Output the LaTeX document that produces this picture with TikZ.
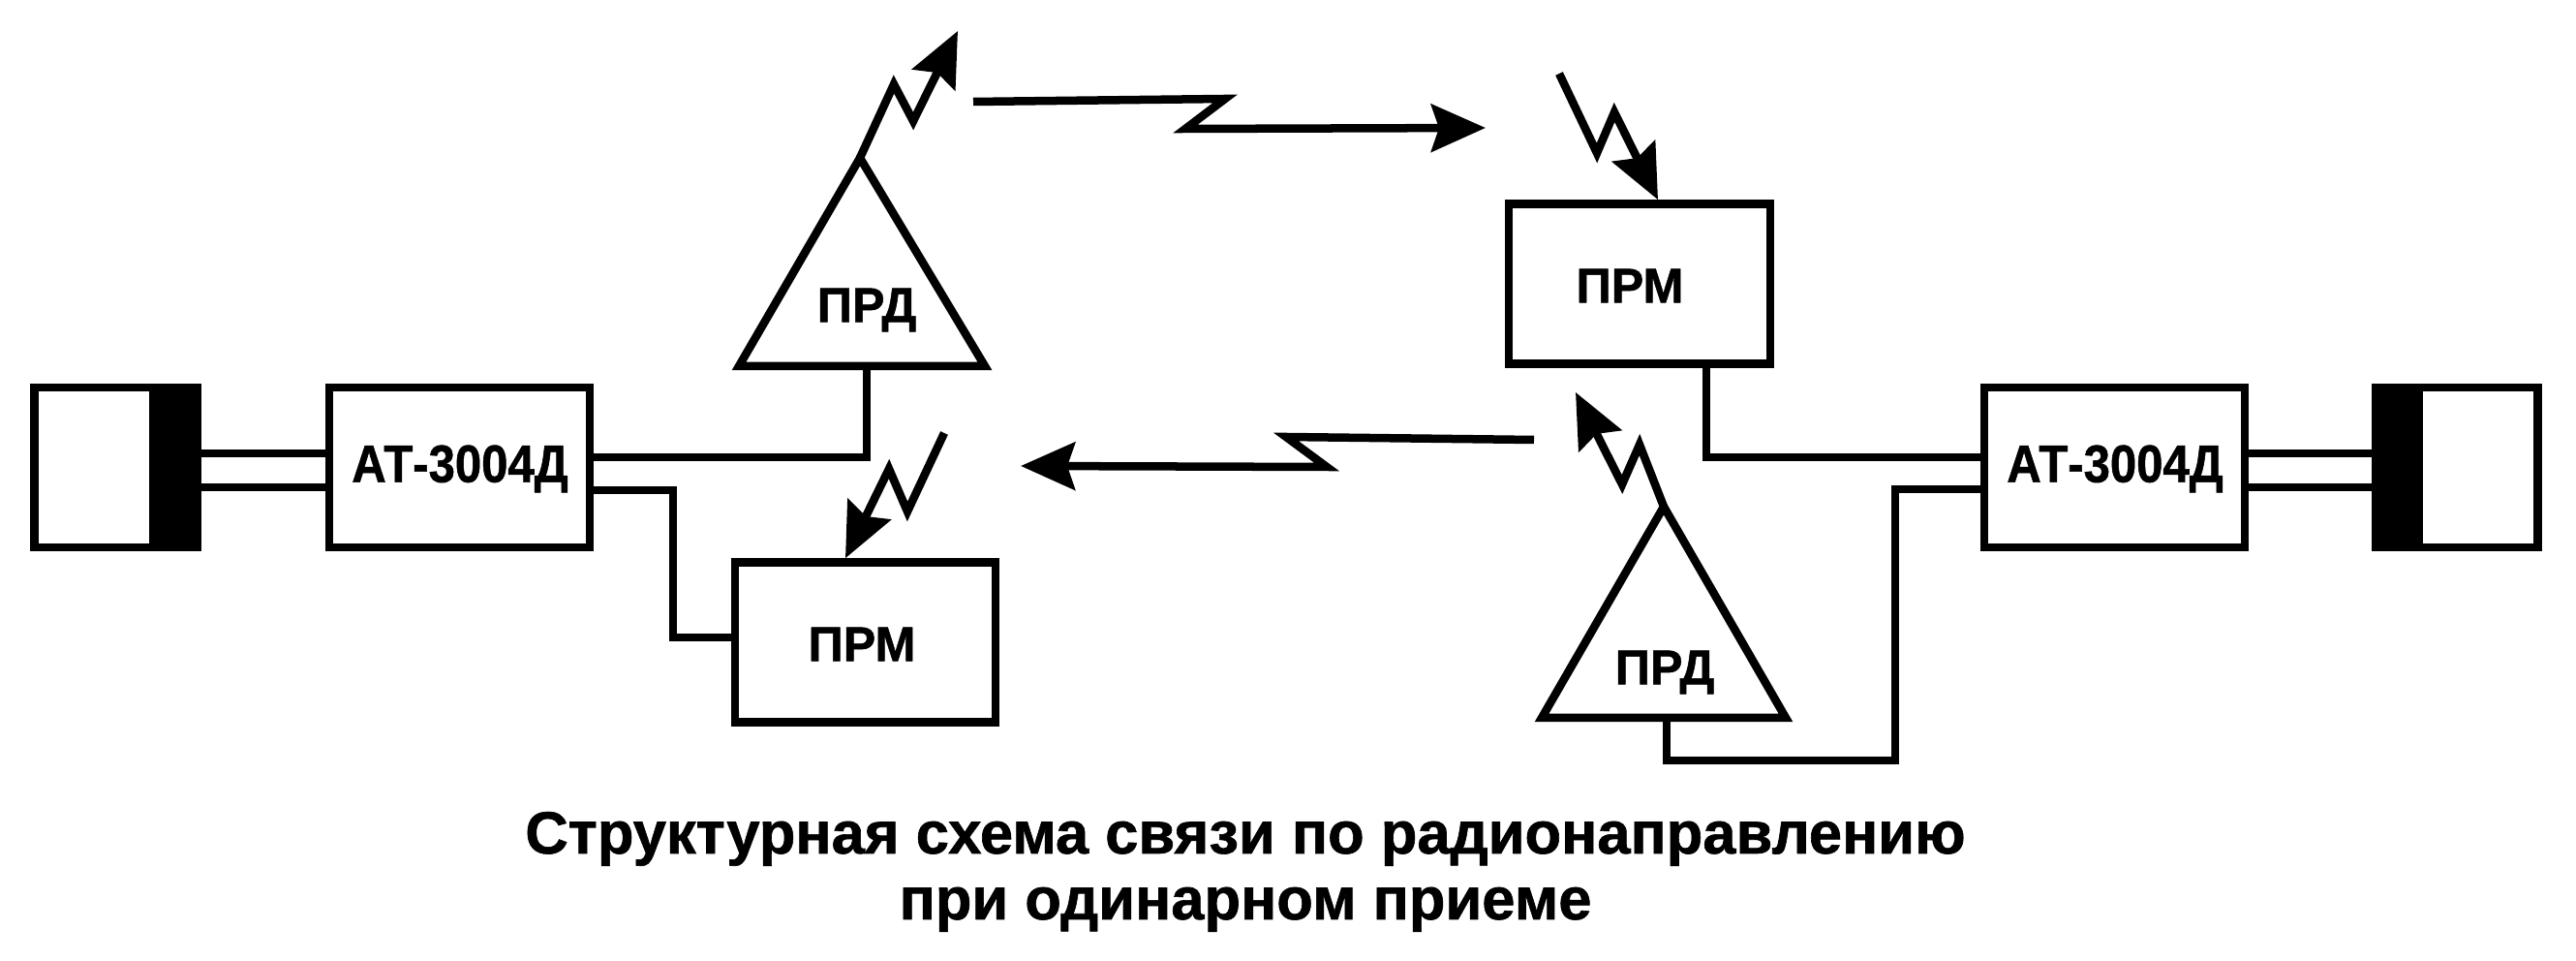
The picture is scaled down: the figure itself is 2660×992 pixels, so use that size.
\documentclass[tikz,border=0pt]{standalone}
\usepackage{fontspec}
\newfontfamily\heavyfont{Liberation Sans}[BoldFeatures={FakeBold=1}]
\newfontfamily\atfont{Liberation Sans}[BoldFeatures={FakeBold=1,FakeStretch=0.9}]
\usetikzlibrary{arrows.meta}
\tikzset{
	heavy/.style={line width=0.085cm,line join=miter},
	boxnode/.style={heavy,draw,rectangle,inner sep=0pt,minimum width=2.69cm,minimum height=1.65cm},
	barnode/.style={boxnode,fill=black,minimum width=0.445cm},
	termnode/.style={boxnode,minimum width=1.65cm},
	bolt/.style={heavy,-{Stealth[length=0.56cm,width=0.49cm,inset=0.08cm]}},
	atlabel/.style={inner sep=0pt,font=\fontsize{15.5pt}{18pt}\atfont\bfseries},
	devlabel/.style={inner sep=0pt,font=\fontsize{14.3pt}{17pt}\heavyfont\bfseries},
	caplabel/.style={inner sep=0pt,anchor=base,font=\fontsize{17.5pt}{21pt}\heavyfont\bfseries}
}
\begin{document}
\begin{tikzpicture}[x=0.01cm,y=-0.01cm]
	\useasboundingbox (0,0) rectangle (2660,992);
	% left side
	\node[termnode] (termL) at (118,482.5) {};
	\node[barnode] (barL) at (181,482.5) {};
	\node[boxnode] (atL) at (474.5,482.5) {};
	\node[atlabel] (atLtxt) at (475,484) {АТ-3004Д};
	\node[boxnode] (prmL) at (893.5,663) {};
	\node[devlabel] (prmLtxt) at (890,665) {ПРМ};
	\coordinate (prdLtop) at (888,163);
	\coordinate (prdLleft) at (763,378);
	\coordinate (prdLright) at (1017,378);
	\coordinate (prdLbase) at (895,378);
	\draw[heavy] (prdLtop) -- (prdLleft) -- (prdLright) -- cycle;
	\node[devlabel] (prdLtxt) at (895,320) {ПРД};
	% right side
	\node[boxnode,minimum width=2.7cm] (prmR) at (1693,293) {};
	\node[devlabel] (prmRtxt) at (1683,295) {ПРМ};
	\node[boxnode] (atR) at (2183.5,482.5) {};
	\node[atlabel] (atRtxt) at (2184,484) {АТ-3004Д};
	\node[barnode] (barR) at (2475.5,482.5) {};
	\node[termnode] (termR) at (2538,482.5) {};
	\coordinate (prdRtop) at (1718,523);
	\coordinate (prdRleft) at (1592,741);
	\coordinate (prdRright) at (1844,741);
	\coordinate (prdRbase) at (1721,741);
	\draw[heavy] (prdRtop) -- (prdRleft) -- (prdRright) -- cycle;
	\node[devlabel] (prdRtxt) at (1719,694) {ПРД};
	% wires
	\foreach \y in {468,503}
	\draw[heavy] (barL.east |- 0,\y) -- (atL.west |- 0,\y);
	\foreach \y in {468,503}
	\draw[heavy] (atR.east |- 0,\y) -- (barR.west |- 0,\y);
	\draw[heavy] (atL.east |- 0,472) -| (prdLbase);
	\draw[heavy] (atL.east |- 0,506) -- (695,506) |- (prmL.west |- 0,658);
	\draw[heavy] (prmR.south -| 1762,0) |- (atR.west |- 0,472);
	\draw[heavy] (atR.west |- 0,505) -- (1957,505) |- (1721,785) -- (prdRbase);
	% antenna bolts
	\draw[bolt] (prdLtop) -- (923,87) -- (943,125) -- (989,32);
	\draw[bolt] (975,447) -- (937,528) -- (918,484) -- (prmL.north -| 873,0);
	\draw[bolt] (1610,76) -- (1649,158) -- (1667,116) -- (prmR.north -| 1712,0);
	\draw[bolt] (prdRtop) -- (1693,459) -- (1675,500) -- (1627,405);
	% long arrows
	\draw[bolt] (1005,105) -- (1265,102) -- (1224,133) -- (1534,132);
	\draw[bolt] (1584,454) -- (1328,451) -- (1370,482) -- (1054,481);
	% caption
	\node[caplabel] (capA) at (1286,881) {Структурная схема связи по радионаправлению};
	\node[caplabel] (capB) at (1286,949) {при одинарном приеме};
\end{tikzpicture}
\end{document}
